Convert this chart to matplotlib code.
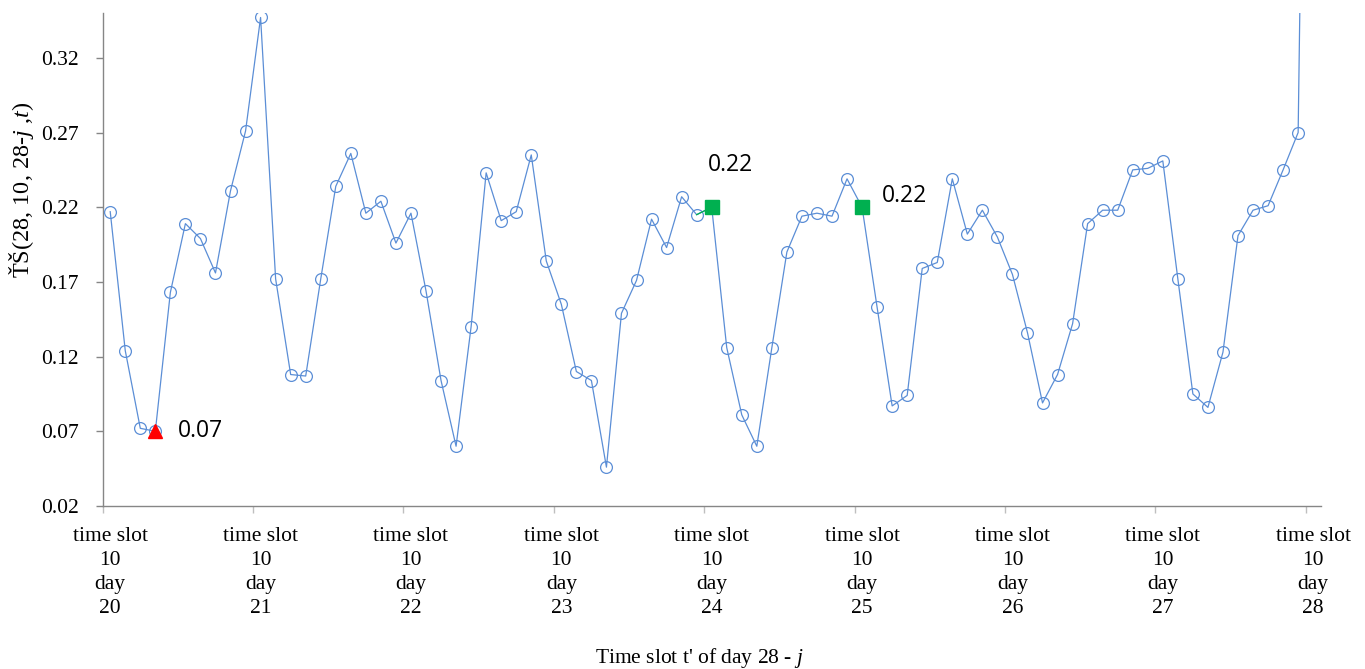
import matplotlib
matplotlib.use("Agg")
import matplotlib.pyplot as plt
import numpy as np

# ---- data ----
days = [20, 21, 22, 23, 24, 25, 26, 27, 28]
slots_per_day = 10
values = [
    0.217, 0.124, 0.072, 0.070, 0.163, 0.209, 0.199, 0.176, 0.231, 0.271,   # day 20
    0.347, 0.172, 0.108, 0.107, 0.172, 0.234, 0.256, 0.216, 0.224, 0.196,   # day 21
    0.216, 0.164, 0.104, 0.060, 0.140, 0.243, 0.211, 0.217, 0.255, 0.184,   # day 22
    0.155, 0.110, 0.104, 0.046, 0.149, 0.171, 0.212, 0.193, 0.227, 0.215,   # day 23
    0.220, 0.126, 0.081, 0.060, 0.126, 0.190, 0.214, 0.216, 0.214, 0.239,   # day 24
    0.220, 0.153, 0.087, 0.094, 0.179, 0.183, 0.239, 0.202, 0.218, 0.200,   # day 25
    0.175, 0.136, 0.089, 0.108, 0.142, 0.209, 0.218, 0.218, 0.245, 0.246,   # day 26
    0.251, 0.172, 0.095, 0.086, 0.123, 0.201, 0.218, 0.221, 0.245, 0.270,   # day 27
    1.000,                                                                  # day 28 slot 10
]
min_idx = 3
min_label = "0.07"
max_idx = [40, 50]
max_labels = ["0.22", "0.22"]
tick_labels = [f"time slot\n10\nday\n{d}" for d in days]
y_ticks = [0.02, 0.07, 0.12, 0.17, 0.22, 0.27, 0.32]

plt.rcParams['mathtext.fontset'] = 'custom'
plt.rcParams['mathtext.rm'] = 'Liberation Serif'
plt.rcParams['mathtext.it'] = 'Liberation Serif:italic'

serif = 'Liberation Serif'
line_color = '#5b8ed6'

fig = plt.figure(figsize=(13.65, 6.69), dpi=100)
W, H = 1365, 669
ax = fig.add_axes([102.7 / W, 1 - 506 / H, (1320.7 - 102.7) / W, (506 - 13) / H])

x = np.arange(len(values))
ax.plot(x, values, color=line_color, lw=0.9, marker='o', ms=8.5,
        mfc='none', mec=line_color, mew=0.9, zorder=3)
# segment into the highlighted maximum drawn in green
ax.plot(x[max_idx[0] - 1:max_idx[0] + 1], values[max_idx[0] - 1:max_idx[0] + 1],
        color='#00b050', lw=0.9, zorder=3)

ax.plot(x[min_idx], values[min_idx], marker='^', ms=10.5, color='#ff0000',
        mec='#ff0000', ls='none', zorder=5)
ax.annotate(min_label, (x[min_idx], values[min_idx]), xytext=(23, 0),
            textcoords='offset pixels', ha='left', va='center',
            fontsize=16.5, family='Open Sans', color='black')
for k, (i, lab) in enumerate(zip(max_idx, max_labels)):
    ax.plot(x[i], values[i], marker='s', ms=10, color='#00b050',
            mec='#00b050', ls='none', zorder=5)
    if k == 0:
        off, ha = (19, 42), 'center'
    else:
        off, ha = (20, 11), 'left'
    ax.annotate(lab, (x[i], values[i]), xytext=off, textcoords='offset pixels',
                ha=ha, va='center', fontsize=16.5, family='Open Sans', color='black')

ax.set_xlim(-0.5, len(values) - 0.5)
ax.set_ylim(0.02, 0.35)

ax.set_yticks(y_ticks)
ax.set_yticklabels([f"{v:.2f}" for v in y_ticks], family=serif, fontsize=15.5)
ax.tick_params(axis='y', length=5, width=1, color='#868686', pad=12)

label_pos = [i * slots_per_day for i in range(len(days))]
ax.set_xticks(label_pos)
ax.set_xticklabels(tick_labels, family=serif, fontsize=15.5, linespacing=1.37)
ax.tick_params(axis='x', which='major', length=0, pad=15)
ax.set_xticks([p - 0.5 for p in label_pos], minor=True)
ax.tick_params(axis='x', which='minor', length=5, width=1, color='#bfbfbf')

for s in ['top', 'right']:
    ax.spines[s].set_visible(False)
for s in ['left', 'bottom']:
    ax.spines[s].set_color('#868686')
    ax.spines[s].set_linewidth(1.0)

fig.text(22 / W, 1 - 190 / H, "ŤŠ(28, 10, 28-$j$ ,$t$)", rotation=90,
         ha='center', va='center', family=serif, fontsize=17.5)
fig.text(699 / W, 1 - 658 / H, "Time slot t' of day 28 - $j$",
         ha='center', va='center', family=serif, fontsize=15.5)

fig.savefig("out.png", dpi=100)
